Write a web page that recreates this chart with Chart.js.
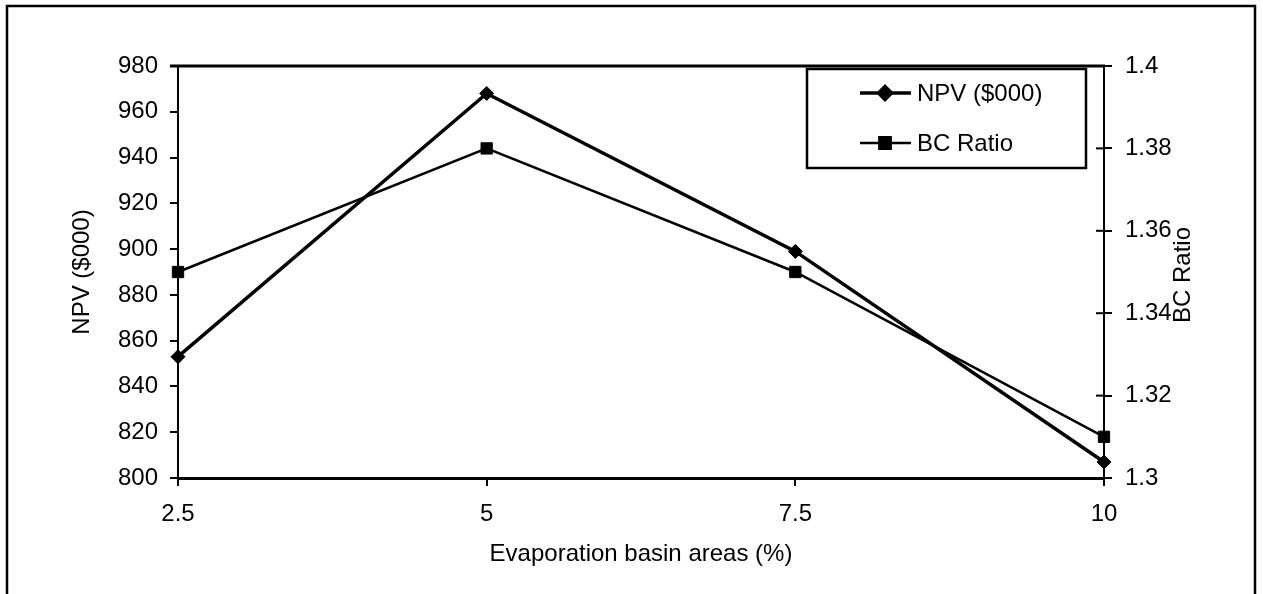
<!DOCTYPE html>
<html>
<head>
<meta charset="utf-8">
<script src="https://cdn.jsdelivr.net/npm/chart.js@4.4.1/dist/chart.umd.min.js"></script>
<style>
html, body { margin: 0; padding: 0; background: #fff; overflow: hidden; }
#wrap { width: 1263px; height: 594px; position: relative; }
</style>
</head>
<body>
<div id="wrap"><canvas id="myChart"></canvas></div>
<script>
// data
const areas = ['2.5', '5', '7.5', '10']
const npv = [853, 968, 899, 807]
const bcRatio = [1.35, 1.38, 1.35, 1.31]
const npvRange = {min: 800, max: 980, step: 20}
const bcRange = {min: 1.3, max: 1.4, step: 0.02}
const xTitle = 'Evaporation basin areas (%)'
const npvTitle = 'NPV ($000)'
const bcTitle = 'BC Ratio'

const FONT = 'Liberation Sans, Arial, sans-serif'
Chart.defaults.font.family = FONT
Chart.defaults.font.size = 24
Chart.defaults.color = '#000'

const framePlugin = {
    id: 'frame',
    beforeDraw(chart) {
        const c = chart.ctx
        c.save()
        c.fillStyle = '#fff'
        c.fillRect(0, 0, chart.width, chart.height)
        c.strokeStyle = '#000'
        c.lineWidth = 2.5
        c.strokeRect(7, 6, 1248, 700)
        c.restore()
    },
    afterDraw(chart) {
        const c = chart.ctx
        const a = chart.chartArea
        c.save()
        c.strokeStyle = '#000'
        c.fillStyle = '#000'
        // top edge of plot area
        c.lineWidth = 3
        c.beginPath()
        c.moveTo(a.left - 8, a.top)
        c.lineTo(a.right + 1, a.top)
        c.stroke()

        // right axis ticks cross the axis line
        const r = chart.scales.y1
        c.lineWidth = 2
        r.ticks.forEach(t => {
            const y = r.getPixelForValue(t.value)
            c.beginPath()
            c.moveTo(a.right - 8, y)
            c.lineTo(a.right, y)
            c.stroke()
        })

        // right axis title, reading upwards like the left one
        c.font = '24px ' + FONT
        c.textAlign = 'center'
        c.textBaseline = 'middle'
        c.save()
        c.translate(1183, 275)
        c.rotate(-Math.PI / 2)
        c.fillText(bcTitle, 0, 0)
        c.restore()

        // legend box
        c.fillStyle = '#fff'
        c.fillRect(807, 69, 279, 99)
        c.lineWidth = 2.5
        c.strokeRect(807, 69, 279, 99)
        c.fillStyle = '#000'
        c.textAlign = 'left'
        const rows = [93, 143]
        chart.data.datasets.forEach((ds, i) => {
            const y = rows[i]
            c.lineWidth = ds.borderWidth
            c.beginPath()
            c.moveTo(860, y)
            c.lineTo(911, y)
            c.stroke()
            Chart.helpers.drawPoint(c, {pointStyle: ds.pointStyle, rotation: 0, borderWidth: 1, radius: ds.legendRadius}, 885, y)
            c.fill()
            c.fillText(ds.label, 917, y + 1)
        })
        c.restore()
    }
}

const ctx = document.getElementById('myChart').getContext('2d')
const chart = new Chart(ctx, {
    type: 'line',
    data: {
        labels: areas,
        datasets: [{
            label: npvTitle,
            data: npv,
            yAxisID: 'y',
            borderColor: '#000',
            backgroundColor: '#000',
            borderWidth: 3.5,
            pointStyle: 'rectRot',
            pointRadius: 7,
            legendRadius: 6.5,
            pointBorderWidth: 1,
            tension: 0,
            clip: false
        }, {
            label: bcTitle,
            data: bcRatio,
            yAxisID: 'y1',
            borderColor: '#000',
            backgroundColor: '#000',
            borderWidth: 2.5,
            pointStyle: 'rect',
            pointRadius: 8,
            legendRadius: 8,
            pointBorderWidth: 1,
            tension: 0,
            clip: false
        }]
    },
    options: {
        responsive: true,
        maintainAspectRatio: false,
        animation: false,
        layout: {padding: {top: 66, left: 0, right: 0, bottom: 0}},
        plugins: {
            legend: {display: false},
            tooltip: {enabled: false}
        },
        scales: {
            x: {
                type: 'category',
                offset: false,
                grid: {drawOnChartArea: false, drawTicks: true, tickLength: 8, color: '#000', lineWidth: 2},
                border: {display: true, color: '#000', width: 3},
                ticks: {padding: 14, maxRotation: 0, autoSkip: false},
                title: {display: true, text: xTitle, padding: {top: 0, bottom: 25}},
                afterFit(scale) { scale.height = 116 }
            },
            y: {
                position: 'left',
                min: npvRange.min,
                max: npvRange.max,
                grid: {drawOnChartArea: false, drawTicks: true, tickLength: 8, color: '#000', lineWidth: 2},
                border: {display: true, color: '#000', width: 2},
                ticks: {stepSize: npvRange.step, padding: 12},
                title: {display: true, text: npvTitle, padding: {top: 68, bottom: 0}},
                afterFit(scale) { scale.width = 178 }
            },
            y1: {
                position: 'right',
                min: bcRange.min,
                max: bcRange.max,
                grid: {drawOnChartArea: false, drawTicks: true, tickLength: 8, color: '#000', lineWidth: 2},
                border: {display: true, color: '#000', width: 2},
                ticks: {stepSize: bcRange.step, padding: 13, callback: v => String(+v.toFixed(2))},
                afterFit(scale) { scale.width = 159 }
            }
        }
    },
    plugins: [framePlugin]
})
</script>
</body>
</html>
